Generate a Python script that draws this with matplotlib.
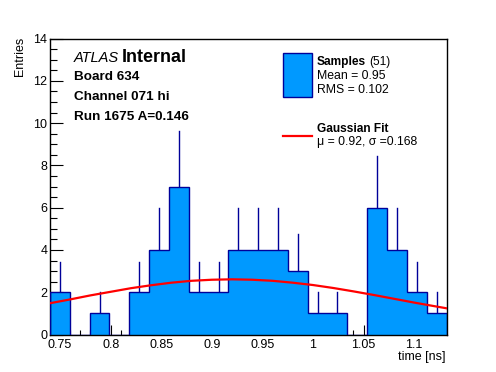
import numpy as np
import matplotlib
matplotlib.use('Agg')
import matplotlib.pyplot as plt
from matplotlib.patches import Rectangle
from matplotlib.lines import Line2D
from matplotlib.ticker import MultipleLocator

plt.rcParams['font.family'] = ['Liberation Sans', 'DejaVu Sans']

# histogram data (20 bins)
x_lo = 0.740
x_hi = 1.132
counts = [2, 0, 1, 0, 2, 4, 7, 2, 2, 4, 4, 4, 3, 1, 1, 0, 6, 4, 2, 1]

# gaussian fit curve
fit_x = [0.74, 0.76, 0.78, 0.80, 0.82, 0.84, 0.86, 0.88, 0.90, 0.92,
         0.94, 0.96, 0.98, 1.00, 1.02, 1.04, 1.06, 1.08, 1.10, 1.12, 1.132]
fit_y = [1.48, 1.66, 1.85, 2.02, 2.19, 2.33, 2.45, 2.54, 2.59, 2.61,
         2.59, 2.54, 2.45, 2.34, 2.20, 2.04, 1.87, 1.69, 1.51, 1.34, 1.24]

title_lines = ['Board 634', 'Channel 071 hi', 'Run 1675 A=0.146']

W, H = 496, 372
fig = plt.figure(figsize=(W / 100, H / 100), dpi=100)
ax = fig.add_axes([50 / W, 1 - 334.5 / H, 396.5 / W, 296 / H])

edges = np.linspace(x_lo, x_hi, len(counts) + 1)
centers = 0.5 * (edges[:-1] + edges[1:])
c = np.array(counts, dtype=float)

navy = '#000099'
fill = '#0099ff'
# error bars (only the upper half shows above the fill)
for xc, n in zip(centers, c):
    if n > 0:
        ax.plot([xc, xc], [n, n + np.sqrt(n)], color=navy, lw=1, zorder=1)
ax.stairs(c, edges, fill=True, color=fill, zorder=2)
ax.stairs(c, edges, fill=False, color=navy, lw=1, baseline=0, zorder=3)

ax.plot(fit_x, fit_y, color='red', lw=1.6, zorder=4)

ax.set_xlim(x_lo, x_hi)
ax.set_ylim(0, 14)
ax.xaxis.set_major_locator(MultipleLocator(0.05))
ax.xaxis.set_minor_locator(MultipleLocator(0.01))
ax.yaxis.set_major_locator(MultipleLocator(2))
ax.yaxis.set_minor_locator(MultipleLocator(0.5))
ax.xaxis.set_major_formatter(matplotlib.ticker.FuncFormatter(lambda v, p: ('%g' % round(v, 3))))
ax.tick_params(axis='x', which='major', direction='in', length=7.2, width=0.8, labelsize=9, pad=3)
ax.tick_params(axis='x', which='minor', direction='in', length=3.6, width=0.8)
ax.tick_params(axis='y', which='major', direction='in', length=9.4, width=0.8, labelsize=9, pad=2)
ax.tick_params(axis='y', which='minor', direction='in', length=4.7, width=0.8)
for sp in ax.spines.values():
    sp.set_linewidth(1)

fig.text(446 / W, 1 - 360 / H, 'time [ns]', ha='right', va='baseline', fontsize=9)
fig.text(19.5 / W, 1 - 37 / H, 'Entries', ha='center', va='top', rotation=90, fontsize=9)

fig.canvas.draw()
renderer = fig.canvas.get_renderer()


def text_after(prev, x_min, y, s, **kw):
    # put s to the right of prev, at x_min or just after it
    x1 = prev.get_window_extent(renderer).x1
    return fig.text(max(x_min, x1 + 3) / W, y, s, ha='left', va='baseline', **kw)


# ATLAS label
t = fig.text(74 / W, 1 - 62 / H, 'ATLAS', style='italic', ha='left', va='baseline', fontsize=10.5)
text_after(t, 119, 1 - 62 / H, 'Internal', weight='bold', fontsize=13)
for i, s in enumerate(title_lines):
    fig.text(74 / W, 1 - (80.5 + 19.5 * i) / H, s, weight='bold', ha='left', va='baseline', fontsize=9.7)

# legend
fig.patches.append(Rectangle((283 / W, 1 - 97 / H), 29 / W, 44 / H, transform=fig.transFigure,
                             facecolor=fill, edgecolor=navy, lw=1))
t = fig.text(317 / W, 1 - 65 / H, 'Samples', weight='bold', ha='left', va='baseline', fontsize=8.6)
text_after(t, 368, 1 - 65 / H, '(51)', fontsize=8.6)
fig.text(317 / W, 1 - 79.3 / H, 'Mean = 0.95', ha='left', va='baseline', fontsize=8.8)
fig.text(317 / W, 1 - 93.3 / H, 'RMS = 0.102', ha='left', va='baseline', fontsize=8.8)
fig.lines.append(Line2D([283 / W, 312 / W], [1 - 136 / H, 1 - 136 / H], transform=fig.transFigure,
                        color='red', lw=1.6))
fig.text(317 / W, 1 - 132.3 / H, 'Gaussian Fit', weight='bold', ha='left', va='baseline', fontsize=8.6)
fig.text(317 / W, 1 - 145 / H, '\u03bc = 0.92, \u03c3 =0.168', ha='left', va='baseline', fontsize=8.8)

fig.savefig('out.png', dpi=100)
